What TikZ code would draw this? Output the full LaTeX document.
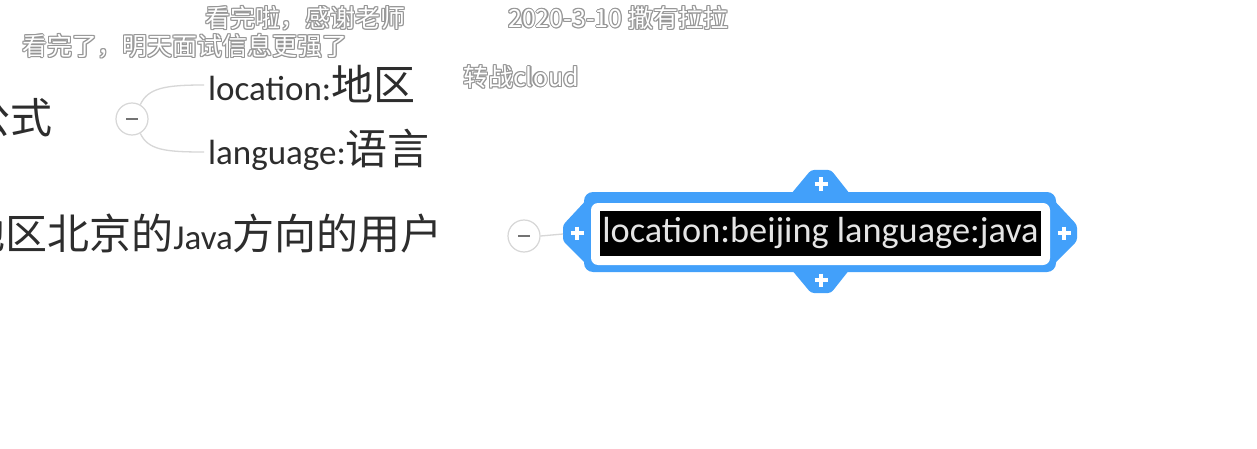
\documentclass[tikz,border=0pt]{standalone}
\usepackage{fontspec}
\setmainfont{Carlito}
\newfontfamily\cjk{Noto Sans CJK SC}[Scale=1.2]
\newfontfamily\dmfont{Noto Sans CJK SC}
\definecolor{selblue}{RGB}{66,160,250}
\definecolor{txtgray}{RGB}{45,45,45}
\definecolor{linegray}{RGB}{215,215,215}
\definecolor{dmgray}{RGB}{150,150,150}
\newcommand\dmk[4]{%
  \foreach \dx/\dy in {-1.1/0,1.1/0,0/-1.1,0/1.1,-.8/-.8,.8/.8,-.8/.8,.8/-.8}{%
    \node[dmshadow] at ({#2+(\dx)},{#3+(\dy)}) {#4};}%
  \node[dmtext] (#1) at (#2,#3) {#4};}
\begin{document}
\begin{tikzpicture}[x=1pt,y=-1pt,
  maintext/.style={inner sep=0pt,text=txtgray,font=\fontsize{35}{42}\selectfont},
  dmshadow/.style={inner sep=0pt,anchor=west,text=dmgray,font=\dmfont\fontsize{25}{30}\selectfont},
  dmtext/.style={inner sep=0pt,anchor=west,text=white,font=\dmfont\fontsize{25}{30}\selectfont},
  foldc/.style={circle,draw=linegray,fill=white,line width=1.2pt,minimum size=32pt,inner sep=0pt},
  minusline/.style={draw=black!55,line width=1.8pt},
  branch/.style={draw=linegray,line width=1.3pt},
  bluepart/.style={fill=selblue,draw=none},
  plusmark/.pic={\draw[white,line width=3.6pt] (-6.5,0)--(6.5,0) (0,-6.5)--(0,6.5);},
  selbox/.style={fill=black,text=black!10,inner sep=0pt,minimum width=441pt,minimum height=45pt,font=\fontsize{36.3}{44}\selectfont}
]
\useasboundingbox[fill=white] (0,0) rectangle (1257,449);

% left text nodes
\node[maintext,anchor=east] (gs) at (53,118) {{\cjk 公式}};
\node[maintext,anchor=west] (loc) at (208,84) {location:{\cjk 地区}};
\node[maintext,anchor=west] (lang) at (208,150) {language:{\cjk 语言}};
\node[maintext,anchor=east] (q) at (443,233) {{\cjk 地区北京的}Java{\cjk 方向的用户}};

% fold circle 1 and branches
\coordinate (locend) at (204,85);
\coordinate (langend) at (204,152);
\node[foldc] (c1) at (132,119) {};
\draw[branch] (c1.60) .. controls (148,88) and (165,85) .. (locend);
\draw[branch] (c1.-60) .. controls (148,150) and (165,152) .. (langend);
\draw[minusline] ([xshift=-6pt]c1.center) -- ([xshift=6pt]c1.center);

% blue selection frame
\fill[bluepart,rounded corners=3pt] (590,196) -- (563,225) -- (563,241) -- (590,268) -- cycle;
\fill[bluepart,rounded corners=3pt] (1050,196) -- (1077,225) -- (1077,241) -- (1050,268) -- cycle;
\fill[bluepart,rounded corners=3pt] (791,194) -- (811,170) -- (831,170) -- (850,194) -- cycle;
\fill[bluepart,rounded corners=3pt] (791,269) -- (811,293) -- (831,293) -- (850,269) -- cycle;
\fill[bluepart,rounded corners=9pt] (584,192) rectangle (1056,272);
\fill[white,rounded corners=7pt] (591,203) rectangle (1050,265);
\node[selbox] (sel) at (820.5,233.5) {location:beijing language:java};
\pic at (577,233) {plusmark};
\pic at (1064,233) {plusmark};
\pic at (821,184) {plusmark};
\pic at (821,280) {plusmark};

% fold circle 2
\coordinate (tipL) at (563,234);
\node[foldc] (c2) at (524,236) {};
\draw[branch] (c2.east) -- (tipL);
\draw[minusline] ([xshift=-6pt]c2.center) -- ([xshift=6pt]c2.center);

% danmaku
\dmk{d1}{205}{18}{看完啦，感谢老师}
\dmk{d2}{508}{18}{2020-3-10 撒有拉拉}
\dmk{d3}{22}{46}{看完了，明天面试信息更强了}
\dmk{d4}{463}{77}{转战cloud}
\end{tikzpicture}
\end{document}
